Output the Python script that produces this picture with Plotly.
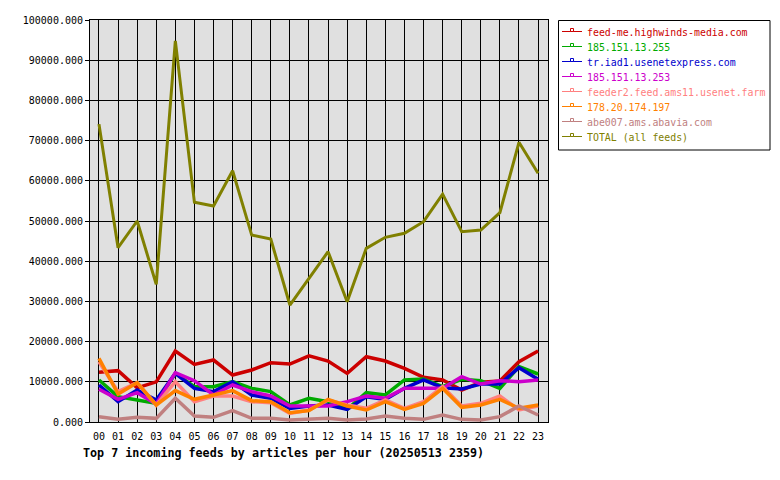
import plotly.graph_objects as go

hours = [f"{h:02d}" for h in range(24)]

names = [
    "feed-me.highwinds-media.com",
    "185.151.13.255",
    "tr.iad1.usenetexpress.com",
    "185.151.13.253",
    "feeder2.feed.ams11.usenet.farm",
    "178.20.174.197",
    "abe007.ams.abavia.com",
    "TOTAL (all feeds)",
]
colors = ["#cc0000", "#00aa00", "#0000cc", "#cc00cc", "#ff8080", "#ff8000", "#c08080", "#808000"]

feed_me = [12350, 12770, 8500, 10000, 17660, 14340, 15420, 11690, 12940, 14760, 14430, 16450,
           15170, 12100, 16250, 15170, 13350, 11110, 10450, 7960, 9870, 10200, 15000, 17660]
ip_255 = [10450, 6300, 5470, 4640, 12100, 8790, 8790, 10030, 8370, 7550, 4230, 5890,
          5060, 3150, 7300, 6720, 10450, 10700, 8790, 10610, 10280, 8370, 13760, 11940]
tr_iad1 = [9200, 5060, 7960, 5470, 12100, 8370, 7550, 10030, 6720, 5890, 3400, 3980,
           4230, 3150, 6300, 5640, 8370, 10450, 8540, 8210, 9450, 9450, 13520, 10610]
ip_253 = [8130, 5640, 7300, 4480, 12270, 10280, 6720, 9200, 7550, 6470, 3980, 3980,
          3980, 5060, 6470, 5890, 8370, 8370, 8370, 11280, 9450, 10280, 10030, 10450]
feeder2 = [15000, 7550, 9780, 4230, 10030, 5060, 6470, 6470, 5060, 4810, 2160, 2990,
           5470, 4230, 3400, 5470, 3400, 5060, 8790, 3980, 4640, 6470, 2990, 3980]
ip_197 = [15840, 6970, 9780, 4230, 7800, 5640, 6720, 7800, 5310, 5060, 2320, 2820,
          5640, 3980, 2990, 5060, 3150, 4640, 8370, 3650, 4230, 5640, 3400, 4230]
abe007 = [1330, 660, 1160, 910, 5890, 1490, 1160, 2820, 910, 910, 500, 660,
          910, 500, 750, 1490, 910, 660, 1740, 660, 500, 1330, 3980, 1740]
total = [74100, 43360, 50000, 34250, 94800, 54650, 53730, 62500, 46500, 45500, 29100, 35660,
         42370, 29930, 43200, 45940, 46930, 49830, 56700, 47350, 47760, 52070, 69580, 61860]

series = [feed_me, ip_255, tr_iad1, ip_253, feeder2, ip_197, abe007, total]
y_ticks = list(range(0, 100001, 10000))
title_text = "Top 7 incoming feeds by articles per hour (20250513 2359)"

W, H = 780, 480
L, R, T, B = 90, 548, 20, 422
MONO = "DejaVu Sans Mono"

def px(x):
    return (x - L) / (R - L)

def py(y):
    return (B - y) / (B - T)

fig = go.Figure()
xs = list(range(24))
for i, (name, vals) in enumerate(zip(names, series)):
    fig.add_trace(go.Scatter(
        x=xs, y=vals, mode="lines", name=name,
        line=dict(color=colors[i], width=3 if i == 7 else 3.5),
        showlegend=False,
    ))

shapes = []
annotations = []
# legend box
shapes.append(dict(type="rect", xref="paper", yref="paper",
                   x0=px(558.5), x1=px(770), y0=py(150), y1=py(20.5),
                   line=dict(color="black", width=1), fillcolor="white", layer="above"))
for i, name in enumerate(names):
    yc = 31.5 + 15 * i
    shapes.append(dict(type="line", xref="paper", yref="paper",
                       x0=px(562), x1=px(582), y0=py(yc), y1=py(yc),
                       line=dict(color=colors[i], width=1), layer="above"))
    shapes.append(dict(type="rect", xref="paper", yref="paper",
                       x0=px(570.5), x1=px(573.5), y0=py(yc), y1=py(yc - 3),
                       line=dict(color=colors[i], width=1), fillcolor="white", layer="above"))
    annotations.append(dict(text=name, xref="paper", yref="paper",
                            x=px(585), y=py(yc + 1), xanchor="left", yanchor="middle",
                            showarrow=False, font=dict(family=MONO, size=9.9, color=colors[i])))

annotations.append(dict(text="<b>" + title_text + "</b>", xref="paper", yref="paper",
                        x=px(81), y=py(452.5), xanchor="left", yanchor="middle",
                        showarrow=False, font=dict(family=MONO, size=11.7, color="black")))

fig.update_layout(
    width=W, height=H,
    margin=dict(l=L, r=W - R, t=T, b=H - B, pad=0),
    paper_bgcolor="white",
    plot_bgcolor="#e0e0e0",
    shapes=shapes,
    annotations=annotations,
    font=dict(family=MONO, size=10, color="black"),
    xaxis=dict(
        range=[-0.47, 23.52],
        tickvals=xs, ticktext=hours,
        showgrid=True, gridcolor="black", gridwidth=1,
        showline=True, linecolor="black", linewidth=1, mirror=True,
        ticks="", zeroline=False, ticklabelstandoff=5,
        tickfont=dict(family=MONO, size=10, color="black"),
    ),
    yaxis=dict(
        range=[0, 100000],
        tickvals=y_ticks, tickformat=".3f",
        showgrid=True, gridcolor="black", gridwidth=1,
        showline=True, linecolor="black", linewidth=1, mirror=True,
        ticks="outside", ticklen=4, tickcolor="black", zeroline=False,
        tickfont=dict(family=MONO, size=10, color="black"),
    ),
)

fig.write_html("out.html")
